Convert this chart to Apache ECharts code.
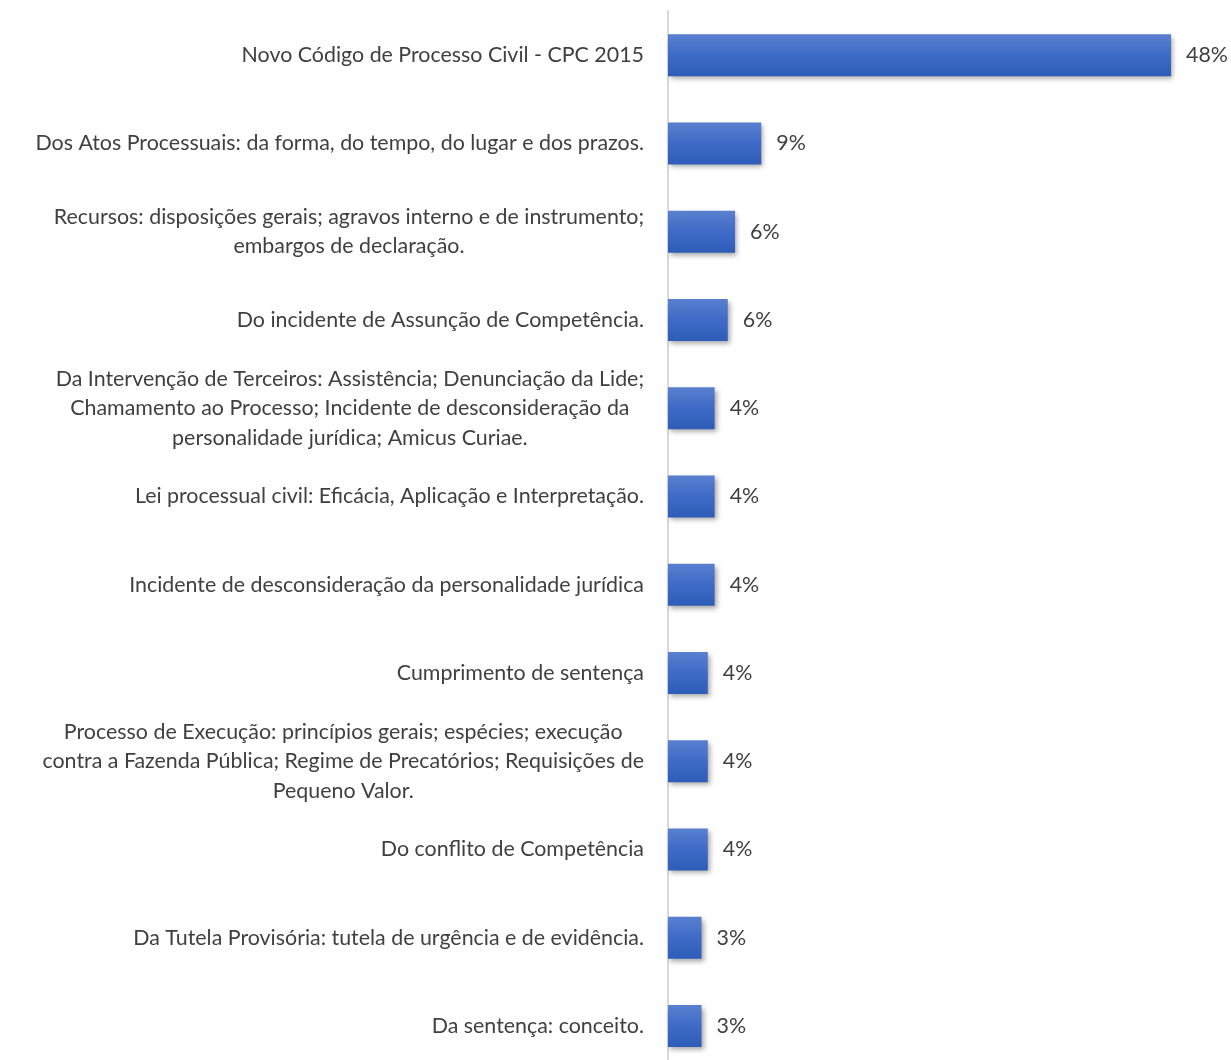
<!DOCTYPE html>
<html><head><meta charset="utf-8">
<script src="https://cdn.jsdelivr.net/npm/echarts@6/dist/echarts.min.js"></script>
<style>html,body{margin:0;padding:0;background:#fff;overflow:hidden}#c{width:1231px;height:1090px}</style>
</head><body><div id="c"></div>
<script>
const categories = [
  "Novo Código de Processo Civil - CPC 2015",
  "Dos Atos Processuais: da forma, do tempo, do lugar e dos prazos.",
  "Recursos: disposições gerais; agravos interno e de instrumento;\nembargos de declaração.",
  "Do incidente de Assunção de Competência.",
  "Da Intervenção de Terceiros: Assistência; Denunciação da Lide;\nChamamento ao Processo; Incidente de desconsideração da\npersonalidade jurídica; Amicus Curiae.",
  "Lei processual civil: Eficácia, Aplicação e Interpretação.",
  "Incidente de desconsideração da personalidade jurídica",
  "Cumprimento de sentença",
  "Processo de Execução: princípios gerais; espécies; execução\ncontra a Fazenda Pública; Regime de Precatórios; Requisições de\nPequeno Valor.",
  "Do conflito de Competência",
  "Da Tutela Provisória: tutela de urgência e de evidência.",
  "Da sentença: conceito."
];
const values = [48.0, 8.9, 6.4, 5.7, 4.45, 4.45, 4.45, 3.8, 3.8, 3.8, 3.2, 3.2];

const FONT = 'Lato, "Open Sans", sans-serif';
const chart = echarts.init(document.getElementById('c'));
chart.setOption({
  animation: false,
  grid: { left: 668, top: 11, width: 524, height: 1059, containLabel: false },
  xAxis: { type: 'value', min: 0, max: 50, show: false },
  yAxis: {
    type: 'category', data: categories, inverse: true,
    axisLine: { show: true, lineStyle: { color: '#d9d9d9', width: 2 } },
    axisTick: { show: false },
    axisLabel: {
      margin: 24, color: '#404040', fontSize: 21.4, lineHeight: 29.5, align: 'right', fontFamily: FONT,
      formatter: v => v.split('\n').map(s => '{c|' + s + '}').join('\n'),
      rich: { c: { align: 'center', color: '#404040', fontSize: 21.4, lineHeight: 29.5, fontFamily: FONT } }
    }
  },
  series: [{
    type: 'bar', data: values, barWidth: 42,
    itemStyle: {
      color: new echarts.graphic.LinearGradient(0, 0, 0, 1, [
        { offset: 0, color: '#5a80cf' }, { offset: 0.5, color: '#3e6bc7' }, { offset: 1, color: '#2d5db8' }
      ]),
      shadowColor: 'rgba(0,0,0,0.35)', shadowBlur: 5, shadowOffsetX: 2, shadowOffsetY: 3
    },
    label: { show: true, position: 'right', distance: 15, color: '#404040', fontSize: 21.4,
      fontFamily: FONT,
      formatter: p => Math.round(p.value) + '%' }
  }]
});
</script></body></html>
